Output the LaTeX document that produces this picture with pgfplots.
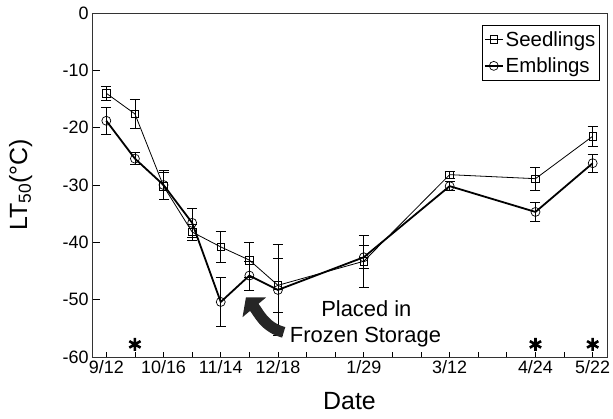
\documentclass[border=0pt]{standalone}
\usepackage{fontspec}
\setmainfont{Liberation Sans}
\usepackage{pgfplots}
\pgfplotsset{compat=1.18}
\usetikzlibrary{arrows.meta}
\begin{document}
\begin{tikzpicture}
\begin{axis}[
  scale only axis, width=515bp, height=344bp,
  xmin=-0.5, xmax=17.5, ymin=-60, ymax=0,
  axis line style={line width=0.8bp, black!80},
  tick align=inside, xtick pos=bottom, ytick pos=left,
  xtick={0,...,17},
  xticklabels={9/12,,10/16,,11/14,,12/18,,,1/29,,,3/12,,,4/24,,5/22},
  ytick={0,-10,-20,-30,-40,-50,-60},
  xtick style={/pgfplots/major tick length=5bp, line width=0.8bp, black},
  ytick style={/pgfplots/major tick length=8bp, line width=0.8bp, black},
  /pgf/number format/assume math mode=true,
  tick label style={font=\fontsize{18}{21}\selectfont},
  xlabel={Date},
  ylabel={LT\textsubscript{50}(°C)},
  label style={font=\fontsize{25}{30}\selectfont},
  xlabel style={at={(axis description cs:0.5,-0.093)}, anchor=north},
  ylabel style={at={(axis description cs:-0.109,0.5)}, anchor=south},
  legend style={at={(rel axis cs:0.986,0.965)}, anchor=north east,
    font=\fontsize{20.5}{24}\selectfont, draw=black, line width=0.8bp,
    inner xsep=2bp, inner ysep=4bp, row sep=6bp,
    /tikz/every even column/.append style={column sep=1bp}},
  legend cell align=left,
  legend image code/.code={\draw[mark repeat=2,mark phase=2,#1] plot coordinates {(0bp,0bp)(9bp,0bp)(18bp,0bp)};},
  error bars/error bar style={line width=0.8bp, black},
  error bars/error mark options={rotate=90, mark size=5bp, line width=0.8bp, black},
]
\addplot[black, line width=0.8bp, mark=square, mark size=3.8bp,
  mark options={line width=0.7bp, fill=white},
  error bars/.cd, y dir=both, y explicit]
  table[x=x, y=y, y error=e] {
x y e
0 -14.0 1.2
1 -17.6 2.5
2 -30.2 2.4
3 -38.2 1.4
4 -40.8 2.7
5 -43.1 3.0
6 -47.5 4.7
9 -43.3 4.5
12 -28.2 0.6
15 -28.9 2.0
17 -21.5 1.7
};
\addlegendentry{Seedlings}
\addplot[black, line width=1.8bp, mark=o, mark size=4.5bp,
  mark options={line width=0.7bp},
  error bars/.cd, y dir=both, y explicit]
  table[x=x, y=y, y error=e] {
x y e
0 -18.8 2.4
1 -25.4 1.0
2 -30.0 2.5
3 -36.6 2.5
4 -50.4 4.2
5 -45.8 2.5
6 -48.3 8.0
9 -42.6 2.0
12 -30.2 0.8
15 -34.7 1.6
17 -26.2 1.6
};
\addlegendentry{Emblings}
\addplot[only marks, black, mark=asterisk, mark size=6.5bp, line width=2.6bp, forget plot]
  coordinates {(1,-57.8) (15,-57.8) (17,-57.8)};
\node[font=\fontsize{22}{27}\selectfont, anchor=base] at (axis cs:9.09,-52.9) {Placed in};
\node[font=\fontsize{22}{27}\selectfont, anchor=base] at (axis cs:9.06,-57.4) {Frozen Storage};
\draw[line width=11bp, black!85, -{Triangle[length=13bp,width=30bp]}]
  (axis cs:6.2,-55.7) to[out=165, in=-50] (axis cs:4.88,-49.6);
\end{axis}
\pgfresetboundingbox
\path (current axis.south west) ++(-92bp,-62bp) coordinate (bl);
\path (current axis.north east) ++(6bp,13bp) coordinate (tr);
\useasboundingbox (bl) rectangle (tr);
\end{tikzpicture}
\end{document}
